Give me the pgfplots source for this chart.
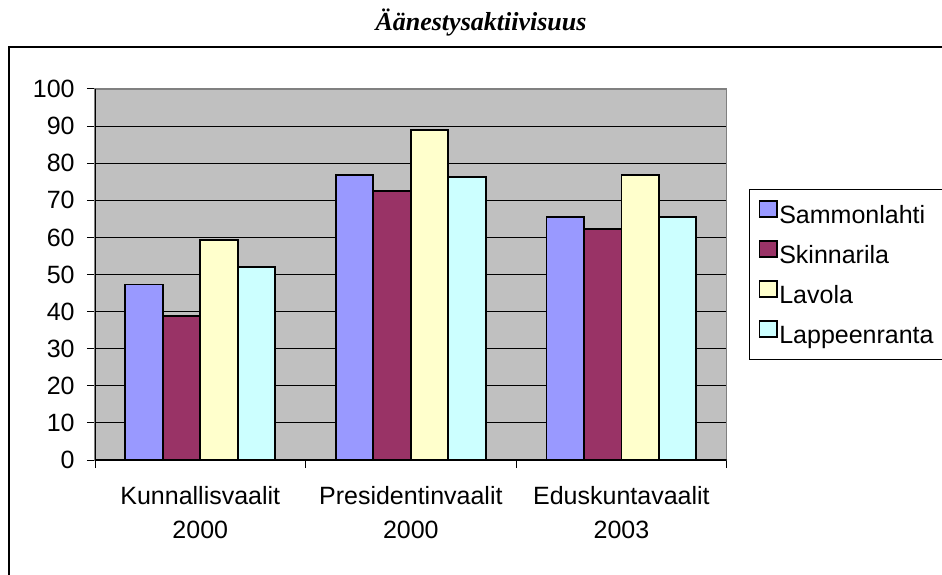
\documentclass[border=0pt]{standalone}
\usepackage{pgfplots}
\pgfplotsset{compat=1.18}
\usepackage{fontspec}
\setmainfont{Liberation Sans}
\newfontfamily\titleserif{Liberation Serif}
\definecolor{cSam}{RGB}{153,153,255}
\definecolor{cSki}{RGB}{153,51,102}
\definecolor{cLav}{RGB}{255,255,204}
\definecolor{cLap}{RGB}{204,255,255}
\definecolor{plotbg}{RGB}{192,192,192}
\definecolor{frameg}{RGB}{128,128,128}
\pgfplotsset{sqlegend/.style={legend image code/.code={\draw[##1,line width=0.6pt] (0pt,0pt) rectangle (8.75pt,8pt);}}}
\begin{document}
\begin{tikzpicture}
\path[use as bounding box] (0,0) rectangle (471pt,287pt);
\draw[black, line width=0.6pt] (4.5pt,-5pt) -- (4.5pt,263.5pt) -- (480pt,263.5pt);
\node[anchor=base, inner sep=0pt] at (240.5pt,271.5pt) {\fontsize{13}{15}\selectfont\titleserif\bfseries\itshape Äänestysaktiivisuus};
\begin{axis}[
  at={(47.5pt,57pt)}, anchor=south west,
  scale only axis, width=315.85pt, height=185.5pt,
  xmin=-0.5, xmax=2.5, ymin=0, ymax=100,
  ytick={0,10,...,100},
  xtick={-0.5,0.5,1.5,2.5}, xticklabels={},
  extra x ticks={0,1,2},
  extra x tick labels={Kunnallisvaalit\\2000, Presidentinvaalit\\2000, Eduskuntavaalit\\2003},
  extra x tick style={major tick length=0pt, grid=none},
  xtick pos=bottom, ytick pos=left,
  ymajorgrids, major grid style={black, line width=0.5pt},
  axis background/.style={fill=plotbg},
  axis line style={frameg, line width=0.6pt},
  tick style={black, line width=0.5pt}, tick align=outside, major tick length=4pt,
  tick label style={font=\fontsize{12.5}{17}\selectfont},
  /pgf/number format/assume math mode=true,
  xticklabel style={align=center, inner sep=0pt, anchor=north, yshift=-13pt},
  yticklabel style={inner sep=0pt, anchor=east, xshift=-6pt},
  ybar=0pt, bar width=0.178,
  legend cell align=left,
  legend style={at={(1.0353,0.7305)}, anchor=north west, draw=black, line width=0.6pt, fill=white,
    inner xsep=4.7pt, inner ysep=5.45pt, row sep=5.9pt, column sep=0.8pt,
    font=\fontsize{12.5}{15}\selectfont,
    nodes={inner sep=0pt, text height=9pt, text depth=2.6pt}},
]
\addplot[fill=cSam, draw=black, line width=0.9pt, sqlegend] coordinates {(0,47.3) (1,76.8) (2,65.6)};
\addplot[fill=cSki, draw=black, line width=0.9pt, sqlegend] coordinates {(0,38.8) (1,72.6) (2,62.2)};
\addplot[fill=cLav, draw=black, line width=0.9pt, sqlegend] coordinates {(0,59.4) (1,88.9) (2,76.8)};
\addplot[fill=cLap, draw=black, line width=0.9pt, sqlegend] coordinates {(0,52.0) (1,76.3) (2,65.6)};
\legend{Sammonlahti, Skinnarila, Lavola, Lappeenranta}
\draw[black, line width=0.6pt] (rel axis cs:0,1) -- (rel axis cs:0,0) -- (rel axis cs:1,0);
\end{axis}
\end{tikzpicture}
\end{document}
